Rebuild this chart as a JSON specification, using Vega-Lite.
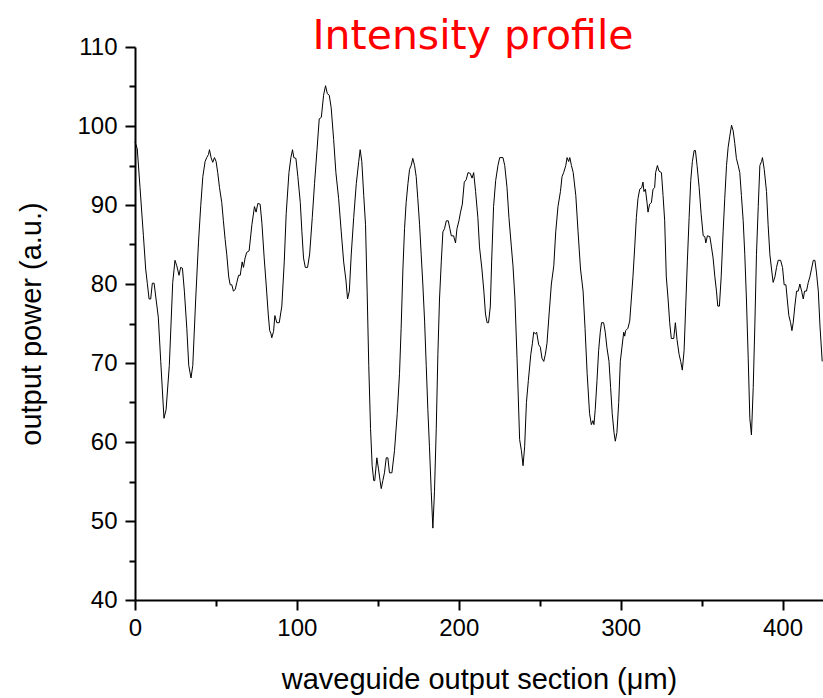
{
  "$schema": "https://vega.github.io/schema/vega-lite/v6.json",
  "width": 688,
  "height": 553,
  "autosize": {"type": "none"},
  "padding": {"left": 135, "top": 47, "right": 0, "bottom": 98},
  "background": "white",
  "title": {
    "text": "Intensity profile",
    "color": "#ff0000",
    "font": "DejaVu Sans",
    "fontSize": 41,
    "fontWeight": "normal",
    "anchor": "middle",
    "frame": "group",
    "offset": -23,
    "dx": -6
  },
  "config": {
    "view": {"stroke": null},
    "axis": {
      "grid": false,
      "labelFlush": false,
      "domainColor": "black",
      "domainWidth": 2,
      "tickColor": "black",
      "tickWidth": 2,
      "labelColor": "black",
      "labelFont": "Liberation Sans",
      "labelFontSize": 24,
      "titleColor": "black",
      "titleFont": "Liberation Sans",
      "titleFontSize": 29,
      "titleFontWeight": "normal"
    }
  },
  "data": {"values": [
    {"x":0,"y":98.0},{"x":1.4,"y":97.1},{"x":3.1,"y":92.2},{"x":5.2,"y":86.1},{"x":6.6,"y":81.9},{"x":7.6,"y":80.1},{"x":8.7,"y":78.1},{"x":9.7,"y":78.1},{"x":10.7,"y":80.1},{"x":11.8,"y":80.1},
    {"x":13,"y":78.1},{"x":14.4,"y":75.8},{"x":15.9,"y":70.2},{"x":17.9,"y":63.0},{"x":19.2,"y":64.1},{"x":21.2,"y":69.7},{"x":23.3,"y":80.2},{"x":24.7,"y":83.0},{"x":25.8,"y":82.3},{"x":27.2,"y":81.1},
    {"x":28.2,"y":82.1},{"x":29.3,"y":82.0},{"x":30.5,"y":79.1},{"x":32,"y":74.4},{"x":33.2,"y":69.7},{"x":34.6,"y":68.1},{"x":35.7,"y":69.7},{"x":37.5,"y":78.1},{"x":39.2,"y":85.2},{"x":40.6,"y":89.9},
    {"x":41.9,"y":93.6},{"x":43.3,"y":95.5},{"x":44.3,"y":96.0},{"x":45.4,"y":96.4},{"x":46,"y":97.0},{"x":47,"y":96.0},{"x":48,"y":95.4},{"x":49.1,"y":96.0},{"x":50.1,"y":95.5},{"x":51.1,"y":94.1},
    {"x":52.2,"y":92.2},{"x":53.6,"y":90.3},{"x":54.6,"y":88.0},{"x":55.7,"y":85.6},{"x":56.7,"y":83.7},{"x":57.9,"y":80.9},{"x":58.8,"y":79.9},{"x":59.8,"y":79.9},{"x":60.8,"y":79.1},{"x":61.9,"y":79.3},
    {"x":62.9,"y":80.2},{"x":64,"y":81.1},{"x":65,"y":81.1},{"x":66.2,"y":82.8},{"x":67,"y":82.1},{"x":68,"y":83.3},{"x":69,"y":84.0},{"x":70.5,"y":84.2},{"x":72.2,"y":87.5},{"x":73.8,"y":89.8},
    {"x":74.8,"y":89.1},{"x":75.9,"y":90.2},{"x":77.3,"y":90.1},{"x":78.4,"y":87.7},{"x":79.8,"y":83.3},{"x":81,"y":80.0},{"x":82.3,"y":76.2},{"x":83.2,"y":74.1},{"x":84,"y":73.7},{"x":84.5,"y":73.2},
    {"x":85.6,"y":74.0},{"x":86.4,"y":76.0},{"x":87.6,"y":75.1},{"x":89.1,"y":75.1},{"x":90.7,"y":77.2},{"x":92.2,"y":82.8},{"x":93.4,"y":88.9},{"x":95.1,"y":94.1},{"x":96.3,"y":96.0},{"x":97.3,"y":97.0},
    {"x":98.1,"y":96.0},{"x":99.4,"y":95.9},{"x":100.6,"y":93.6},{"x":102.1,"y":90.3},{"x":103.1,"y":86.6},{"x":104.1,"y":83.3},{"x":105.2,"y":82.1},{"x":106.6,"y":82.1},{"x":107.9,"y":83.8},{"x":109.5,"y":88.4},
    {"x":110.9,"y":92.7},{"x":112.4,"y":96.9},{"x":113.8,"y":100.9},{"x":115.1,"y":101.1},{"x":116.5,"y":103.9},{"x":117.7,"y":105.1},{"x":118.8,"y":104.1},{"x":120,"y":103.9},{"x":121.2,"y":102.3},{"x":122.7,"y":98.3},
    {"x":124.1,"y":94.1},{"x":125.8,"y":90.8},{"x":127.4,"y":86.6},{"x":128.9,"y":82.8},{"x":130.3,"y":80.5},{"x":131.3,"y":78.1},{"x":132.4,"y":79.1},{"x":133.6,"y":83.8},{"x":135.1,"y":88.4},{"x":136.7,"y":92.7},
    {"x":138.2,"y":95.5},{"x":139.1,"y":97.0},{"x":140.1,"y":95.5},{"x":141.3,"y":91.2},{"x":142.4,"y":87.5},{"x":143.4,"y":79.1},{"x":144.4,"y":69.7},{"x":145.5,"y":61.7},{"x":146.5,"y":57.0},{"x":147.5,"y":55.1},
    {"x":148.1,"y":55.1},{"x":149.4,"y":58.0},{"x":150.4,"y":56.6},{"x":151.4,"y":55.1},{"x":152.1,"y":54.1},{"x":153.1,"y":55.1},{"x":154.1,"y":56.1},{"x":155.2,"y":58.0},{"x":156.2,"y":58.0},{"x":157.2,"y":56.1},
    {"x":158.7,"y":56.1},{"x":160.3,"y":58.9},{"x":162,"y":63.6},{"x":163.4,"y":68.7},{"x":164.4,"y":74.4},{"x":165.5,"y":81.9},{"x":166.5,"y":87.0},{"x":167.5,"y":90.3},{"x":168.6,"y":92.7},{"x":169.6,"y":94.5},
    {"x":170.6,"y":95.0},{"x":171.6,"y":95.9},{"x":172.7,"y":95.0},{"x":173.7,"y":93.6},{"x":174.7,"y":90.8},{"x":175.8,"y":87.5},{"x":176.8,"y":83.7},{"x":177.8,"y":80.0},{"x":178.9,"y":75.3},{"x":179.9,"y":69.7},
    {"x":180.9,"y":64.1},{"x":181.9,"y":59.4},{"x":183,"y":53.7},{"x":184,"y":49.1},{"x":185,"y":53.7},{"x":186.1,"y":61.7},{"x":187.1,"y":71.1},{"x":188.1,"y":78.1},{"x":189.2,"y":82.8},{"x":190.2,"y":86.6},
    {"x":191.2,"y":87.0},{"x":192.3,"y":88.0},{"x":193.5,"y":88.0},{"x":194.5,"y":87.0},{"x":195.4,"y":86.1},{"x":196.8,"y":86.1},{"x":198,"y":85.2},{"x":198.9,"y":87.0},{"x":200.1,"y":88.0},{"x":201.1,"y":89.1},
    {"x":202.2,"y":90.1},{"x":203.4,"y":92.9},{"x":204.6,"y":93.2},{"x":205.7,"y":94.1},{"x":207.1,"y":94.0},{"x":208.2,"y":93.4},{"x":209.2,"y":94.1},{"x":210.4,"y":91.7},{"x":211.8,"y":88.4},{"x":212.8,"y":84.7},
    {"x":214.3,"y":81.9},{"x":215.5,"y":79.1},{"x":216.5,"y":76.2},{"x":217.5,"y":75.1},{"x":218.4,"y":75.1},{"x":219.5,"y":77.2},{"x":220.3,"y":82.8},{"x":221.5,"y":89.8},{"x":222.8,"y":93.1},{"x":224.2,"y":95.0},
    {"x":225.3,"y":96.0},{"x":227.3,"y":96.0},{"x":228.4,"y":95.0},{"x":229.8,"y":92.2},{"x":231,"y":88.4},{"x":232.5,"y":84.7},{"x":233.5,"y":82.3},{"x":234.7,"y":78.1},{"x":236,"y":70.6},{"x":237.6,"y":60.3},
    {"x":238.7,"y":58.9},{"x":239.7,"y":57.0},{"x":240.7,"y":59.4},{"x":241.8,"y":65.0},{"x":243,"y":67.8},{"x":244.5,"y":71.1},{"x":245.5,"y":72.5},{"x":246.3,"y":73.9},{"x":247.3,"y":73.7},{"x":248.1,"y":73.9},
    {"x":249.4,"y":72.3},{"x":250.4,"y":72.0},{"x":251.4,"y":70.6},{"x":252.5,"y":70.2},{"x":253.5,"y":71.1},{"x":254.5,"y":72.5},{"x":255.8,"y":76.2},{"x":257.2,"y":80.0},{"x":258.7,"y":82.3},{"x":259.9,"y":86.6},
    {"x":261.3,"y":89.8},{"x":262.8,"y":91.7},{"x":263.8,"y":93.6},{"x":264.8,"y":94.1},{"x":266.1,"y":95.0},{"x":266.9,"y":96.0},{"x":267.9,"y":95.5},{"x":268.6,"y":96.0},{"x":269.6,"y":95.0},{"x":270.7,"y":94.1},
    {"x":272.3,"y":91.2},{"x":273.7,"y":86.6},{"x":275.2,"y":81.9},{"x":276.8,"y":79.1},{"x":278,"y":74.4},{"x":279.3,"y":68.7},{"x":280.8,"y":63.6},{"x":281.9,"y":62.2},{"x":282.9,"y":62.7},{"x":283.5,"y":62.2},
    {"x":284.3,"y":64.1},{"x":285.4,"y":67.8},{"x":286.4,"y":71.6},{"x":287.4,"y":73.9},{"x":288.2,"y":75.1},{"x":289.5,"y":75.1},{"x":290.5,"y":73.9},{"x":291.5,"y":72.0},{"x":292.8,"y":70.2},{"x":293.8,"y":66.9},
    {"x":294.8,"y":63.6},{"x":295.9,"y":61.2},{"x":296.7,"y":60.1},{"x":297.7,"y":61.2},{"x":298.8,"y":65.0},{"x":299.8,"y":70.2},{"x":300.8,"y":72.0},{"x":301.9,"y":73.9},{"x":302.5,"y":73.4},{"x":303.1,"y":74.1},
    {"x":304.5,"y":74.4},{"x":305.6,"y":75.3},{"x":306.6,"y":78.1},{"x":307.6,"y":80.9},{"x":308.7,"y":84.7},{"x":309.7,"y":88.4},{"x":310.7,"y":90.8},{"x":311.8,"y":92.0},{"x":313,"y":92.2},{"x":313.8,"y":92.9},
    {"x":314.4,"y":91.7},{"x":315.3,"y":92.0},{"x":316.3,"y":90.3},{"x":316.9,"y":89.1},{"x":317.9,"y":90.1},{"x":319,"y":90.3},{"x":320,"y":92.0},{"x":321,"y":92.2},{"x":321.6,"y":94.1},{"x":322.7,"y":95.0},
    {"x":323.7,"y":94.3},{"x":325.2,"y":94.1},{"x":326.2,"y":91.2},{"x":327.2,"y":88.0},{"x":328.2,"y":80.9},{"x":329.3,"y":78.1},{"x":330.3,"y":75.1},{"x":331.3,"y":73.1},{"x":332.8,"y":73.1},{"x":333.8,"y":75.1},
    {"x":334.8,"y":73.0},{"x":336.1,"y":71.1},{"x":337.1,"y":70.2},{"x":338.1,"y":69.1},{"x":339.2,"y":71.6},{"x":340.2,"y":77.2},{"x":341.2,"y":82.8},{"x":342.3,"y":88.4},{"x":343.3,"y":93.1},{"x":344.3,"y":95.5},
    {"x":345.4,"y":96.9},{"x":346.2,"y":96.9},{"x":347.2,"y":95.0},{"x":348.5,"y":92.2},{"x":349.7,"y":88.9},{"x":351,"y":86.1},{"x":352,"y":86.0},{"x":352.6,"y":85.2},{"x":353.6,"y":86.1},{"x":355.1,"y":86.0},
    {"x":356.1,"y":84.7},{"x":357.1,"y":83.3},{"x":358.2,"y":80.9},{"x":359.2,"y":79.1},{"x":360,"y":77.2},{"x":361,"y":77.2},{"x":362.1,"y":80.9},{"x":363.3,"y":86.6},{"x":364.3,"y":90.8},{"x":365.4,"y":95.0},
    {"x":366.4,"y":97.3},{"x":367.4,"y":98.7},{"x":368.5,"y":100.1},{"x":369.5,"y":99.4},{"x":370.5,"y":97.8},{"x":371.5,"y":95.9},{"x":372.6,"y":95.0},{"x":373.6,"y":94.1},{"x":374.6,"y":91.2},{"x":375.7,"y":88.0},
    {"x":376.7,"y":83.7},{"x":377.7,"y":78.1},{"x":378.8,"y":70.6},{"x":379.8,"y":63.0},{"x":380.8,"y":60.9},{"x":381.9,"y":66.9},{"x":382.9,"y":74.8},{"x":383.9,"y":83.7},{"x":385,"y":89.8},{"x":386,"y":95.0},
    {"x":387,"y":95.5},{"x":387.6,"y":96.0},{"x":388.7,"y":94.5},{"x":390.1,"y":91.7},{"x":391.1,"y":87.5},{"x":392.2,"y":83.7},{"x":393.2,"y":81.9},{"x":394.2,"y":80.2},{"x":395.3,"y":80.9},{"x":396.3,"y":82.1},
    {"x":397.3,"y":83.0},{"x":398.8,"y":83.0},{"x":400,"y":82.1},{"x":401,"y":79.9},{"x":402.1,"y":79.9},{"x":402.9,"y":78.1},{"x":403.9,"y":76.0},{"x":405,"y":75.1},{"x":405.8,"y":74.1},{"x":406.6,"y":75.1},
    {"x":407.6,"y":77.2},{"x":408.7,"y":79.1},{"x":409.7,"y":79.1},{"x":410.7,"y":80.0},{"x":411.8,"y":79.1},{"x":412.8,"y":78.1},{"x":413.6,"y":79.1},{"x":414.8,"y":79.1},{"x":415.9,"y":80.2},{"x":416.9,"y":80.9},
    {"x":417.9,"y":81.9},{"x":419,"y":83.0},{"x":420,"y":83.0},{"x":421,"y":81.4},{"x":422.1,"y":79.1},{"x":423.1,"y":74.8},{"x":424.5,"y":70.2}
  ]},
  "layer": [
    {
      "mark": {"type": "line", "opacity": 0},
      "encoding": {
        "x": {"field": "x", "type": "quantitative",
              "scale": {"domain": [0, 425], "nice": false, "zero": false},
              "axis": {"orient": "bottom", "values": [50, 150, 250, 350], "tickSize": 6, "labels": false, "domain": false, "title": null}},
        "y": {"field": "y", "type": "quantitative",
              "scale": {"domain": [40, 110], "nice": false, "zero": false},
              "axis": {"orient": "left", "values": [45, 55, 65, 75, 85, 95, 105], "tickSize": 6, "labels": false, "domain": false, "title": null}}
      }
    },
    {
      "mark": {"type": "line", "color": "black", "strokeWidth": 1, "interpolate": "linear"},
      "encoding": {
        "x": {"field": "x", "type": "quantitative",
              "scale": {"domain": [0, 425], "nice": false, "zero": false},
              "axis": {"orient": "bottom", "values": [0, 100, 200, 300, 400], "tickSize": 10, "labelPadding": 6,
                       "title": "waveguide output section (μm)", "titlePadding": 25}},
        "y": {"field": "y", "type": "quantitative",
              "scale": {"domain": [40, 110], "nice": false, "zero": false},
              "axis": {"orient": "left", "values": [40, 50, 60, 70, 80, 90, 100, 110], "tickSize": 10, "labelPadding": 8,
                       "title": "output power (a.u.)", "titlePadding": 30}}
      }
    }
  ],
  "resolve": {"scale": {"x": "independent", "y": "independent"}, "axis": {"x": "independent", "y": "independent"}}
}
